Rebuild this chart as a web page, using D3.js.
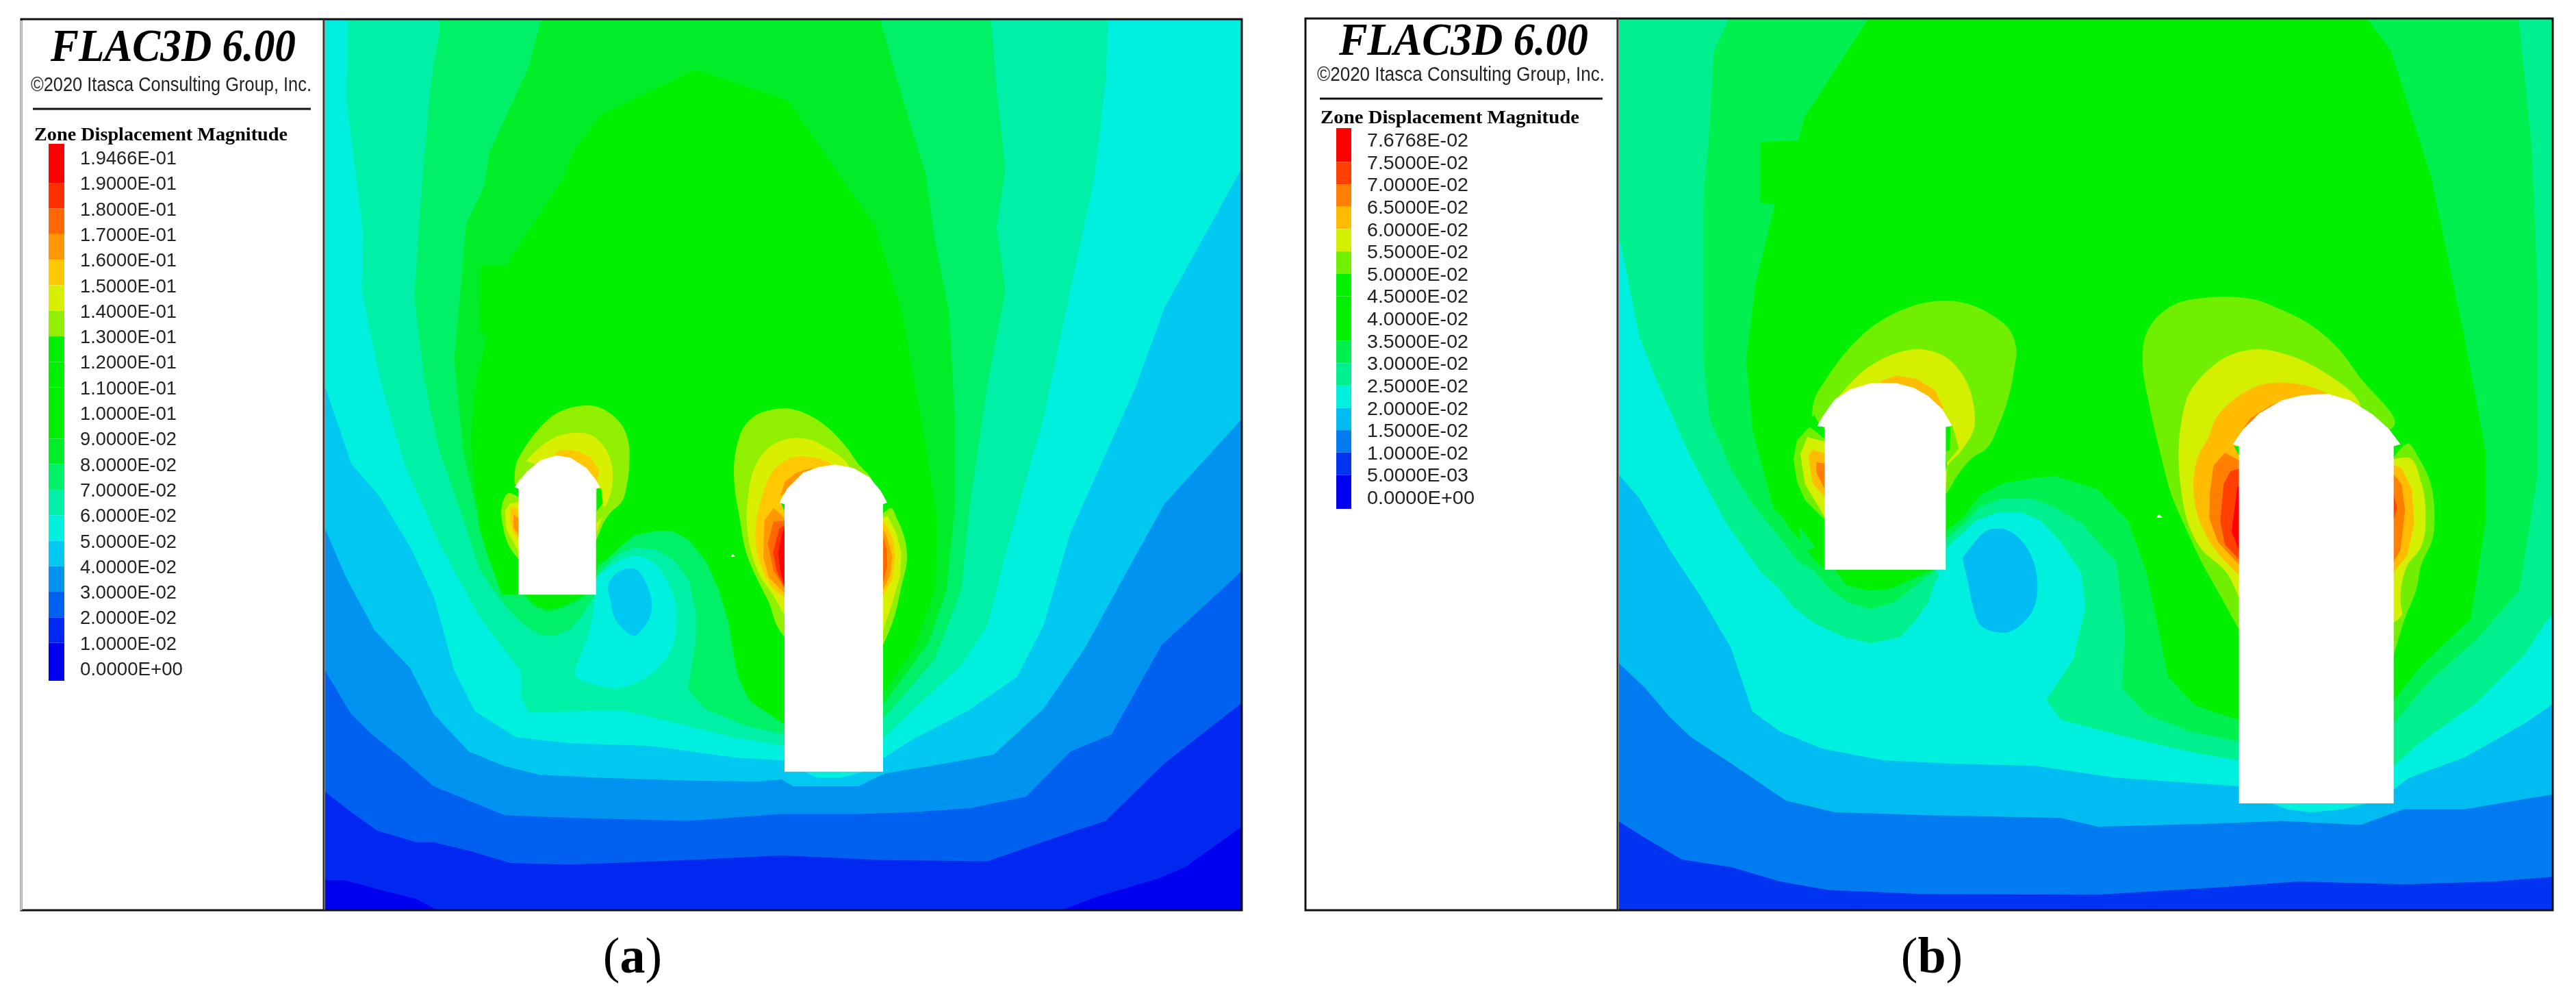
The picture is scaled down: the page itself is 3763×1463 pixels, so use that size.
<!DOCTYPE html>
<html>
<head>
<meta charset="utf-8">
<script src="https://cdn.jsdelivr.net/npm/d3@7"></script>
<style>
  html, body { margin: 0; padding: 0; background: #fff; }
  svg { display: block; }
</style>
</head>
<body>
<div id="chart"></div>
<script>
// Legend labels, top to bottom
const labelsA = ['1.9466E-01','1.9000E-01','1.8000E-01','1.7000E-01','1.6000E-01','1.5000E-01','1.4000E-01','1.3000E-01','1.2000E-01','1.1000E-01','1.0000E-01','9.0000E-02','8.0000E-02','7.0000E-02','6.0000E-02','5.0000E-02','4.0000E-02','3.0000E-02','2.0000E-02','1.0000E-02','0.0000E+00'];
const labelsB = ['7.6768E-02','7.5000E-02','7.0000E-02','6.5000E-02','6.0000E-02','5.5000E-02','5.0000E-02','4.5000E-02','4.0000E-02','3.5000E-02','3.0000E-02','2.5000E-02','2.0000E-02','1.5000E-02','1.0000E-02','5.0000E-03','0.0000E+00'];

// Contour colours, lowest band first
const bandsA = ['#0000f0','#0028f0','#0060f0','#0094f0','#00c8f0','#00f0e0','#00f0a8','#00f068','#00ee28','#00f000','#00f000','#00f000','#00f000','#90f000','#d8f000','#ffc800','#ff9800','#ff6800','#ff3000','#ff0000'];
const bandsB = ['#0000f0','#0034f0','#007cf0','#00bcf0','#00f0e0','#00f090','#00f050','#00f000','#00f000','#00f000','#70f000','#d4f000','#ffbc00','#ff8000','#ff4000','#ff0000'];

const titleText = 'FLAC3D 6.00';
const copyrightText = '\u00a92020 Itasca Consulting Group, Inc.';
const legendTitle = 'Zone Displacement Magnitude';

// Contours: [level, frame, points], drawn in this order
const contoursA = [
  [0.01,'A',[[0,1503],[40,1503],[100,1520],[160,1535],[220,1568],[1220,1568],[1320,1530],[1420,1500],[1465,1480],[1568,1405],[1568,0],[0,0]]],
  [0.02,'A',[[0,1345],[50,1385],[95,1417],[160,1437],[190,1437],[250,1452],[320,1473],[420,1476],[620,1468],[780,1460],[950,1468],[1130,1470],[1270,1420],[1330,1400],[1430,1300],[1568,1190],[1568,0],[0,0]]],
  [0.03,'A',[[0,1130],[50,1215],[85,1250],[140,1295],[190,1340],[250,1365],[310,1390],[430,1395],[620,1400],[780,1388],[910,1388],[1000,1385],[1100,1378],[1195,1358],[1270,1280],[1340,1250],[1425,1095],[1568,960],[1568,0],[0,0]]],
  [0.04,'A',[[0,880],[40,975],[90,1070],[150,1135],[190,1215],[250,1280],[310,1305],[370,1320],[470,1325],[620,1330],[740,1332],[780,1328],[800,1340],[910,1340],[955,1318],[1060,1300],[1140,1285],[1225,1205],[1295,1100],[1370,960],[1430,850],[1568,695],[1568,0],[0,0]]],
  [0.05,'A',[[0,630],[30,720],[50,780],[100,840],[150,925],[190,1010],[225,1140],[260,1210],[330,1255],[420,1265],[560,1270],[700,1290],[785,1295],[955,1290],[1000,1260],[1095,1210],[1180,1150],[1225,1060],[1270,900],[1380,650],[1430,510],[1568,255],[1568,0],[0,0]]],
  [0.06,'A',[[45,0],[42,150],[70,380],[68,480],[100,640],[140,780],[200,920],[267,1045],[337,1140],[340,1168],[337,1184],[352,1212],[420,1210],[510,1208],[600,1230],[700,1255],[785,1270],[955,1255],[1000,1210],[1085,1130],[1130,1060],[1170,900],[1225,700],[1270,480],[1310,290],[1330,120],[1335,0]]],
  [0.07,'A',[[200,0],[200,30],[185,120],[170,300],[157,490],[175,640],[200,760],[235,860],[267,962],[290,998],[317,1034],[344,1061],[371,1077],[395,1079],[422,1067],[441,1045],[462,1010],[472,970],[499,940],[531,926],[565,929],[596,946],[623,982],[635,1038],[635,1085],[627,1137],[621,1172],[650,1205],[720,1235],[785,1250],[955,1220],[1040,1120],[1085,1000],[1100,850],[1130,640],[1160,480],[1145,370],[1160,270],[1145,130],[1135,0]]],
  [0.08,'A',[[375,0],[350,95],[285,240],[275,300],[245,365],[225,600],[240,760],[267,880],[279,927],[298,982],[306,1004],[344,1008],[360,1027],[383,1037],[406,1031],[430,1020],[449,1008],[464,990],[466,958],[472,958],[499,918],[522,899],[561,889],[592,889],[619,903],[650,942],[673,998],[689,1053],[698,1109],[705,1148],[723,1188],[785,1225],[955,1195],[1030,1090],[1060,1000],[1075,850],[1075,720],[1065,520],[1040,390],[1025,280],[975,110],[945,0]]],
  [0.09,'A',[[635,97],[475,175],[430,235],[410,285],[315,435],[270,437],[268,550],[280,560],[262,640],[252,740],[267,890],[279,932],[298,986],[306,1008],[344,1008],[360,1024],[383,1033],[406,1027],[430,1016],[449,1008],[464,986],[470,950],[480,950],[506,925],[530,905],[565,897],[595,897],[622,912],[652,950],[676,1005],[692,1060],[700,1115],[710,1155],[730,1195],[785,1232],[955,1175],[1005,1100],[1040,1000],[1045,880],[1020,720],[985,520],[940,370],[790,150]]],
  // cyan lobe and blue core beside the small opening
  [0.05,'a1',[[510,925],[510,860],[575,800],[640,765],[700,755],[770,790],[820,860],[860,960],[865,1060],[840,1170],[780,1250],[690,1310],[600,1335],[510,1320],[420,1275],[440,1200],[480,1100],[500,1000]]],
  [0.04,'a1',[[640,810],[690,815],[725,860],[745,910],[757,965],[745,1030],[720,1070],[680,1105],[630,1075],[595,1030],[575,950],[565,885],[600,830]]],
  [0.05,'A',[[820,1315],[920,1315],[880,1325],[840,1325]]],
  // small opening, crown
  [0.13,'a1',[[155,400],[160,360],[200,280],[260,200],[340,130],[430,100],[510,100],[580,135],[630,190],[655,260],[658,350],[650,430],[620,525],[580,560],[545,610],[520,670],[515,680],[340,500],[155,440]]],
  [0.14,'a1',[[205,340],[290,260],[360,225],[430,215],[490,225],[550,280],[580,350],[585,420],[570,500],[550,540],[515,470],[400,400]]],
  [0.09,'a1',[[515,460],[535,460],[542,525],[515,560]]],
  [0.14,'a1',[[515,610],[540,585],[525,625],[515,650]]],
  [0.15,'a1',[[330,310],[360,290],[430,295],[490,325],[525,380],[520,430],[340,350]]],
  // small opening, left wall
  [0.13,'a1',[[130,478],[160,490],[175,500],[175,770],[130,710],[105,630],[100,530],[115,490]]],
  [0.14,'a1',[[175,520],[135,525],[112,560],[120,640],[175,740]]],
  [0.15,'a1',[[175,550],[135,540],[135,600],[150,650],[175,690]]],
  [0.16,'a1',[[175,590],[150,575],[150,630],[175,670]]],
  // large opening, crown and left wall
  [0.13,'a2',[[318,1050],[290,1010],[250,900],[200,800],[150,680],[120,520],[100,400],[100,260],[110,210],[140,130],[190,80],[260,55],[340,50],[430,80],[510,135],[590,220],[640,290],[700,360],[500,500]]],
  [0.14,'a2',[[320,960],[270,870],[210,780],[160,620],[160,420],[190,300],[250,220],[340,180],[430,185],[510,225],[600,300],[500,500]]],
  [0.15,'a2',[[320,880],[270,840],[220,750],[190,600],[200,510],[225,420],[270,320],[350,265],[420,260],[520,290],[450,500]]],
  [0.16,'a2',[[320,860],[250,790],[225,700],[230,540],[270,485],[320,530]]],
  [0.16,'a2',[[300,430],[320,370],[370,330],[440,310],[400,400]]],
  [0.17,'a2',[[320,840],[270,760],[245,640],[270,545],[320,540]]],
  [0.18,'a2',[[320,835],[285,765],[268,680],[295,575],[320,560]]],
  [0.19,'a2',[[320,830],[300,760],[290,680],[310,590],[320,570]]],
  [0.09,'a2',[[303,465],[320,465],[320,505]]],
  // large opening, right wall
  [0.13,'a2',[[748,1090],[790,990],[830,830],[855,700],[845,620],[810,530],[785,485],[748,510]]],
  [0.14,'a2',[[748,1030],[790,900],[825,780],[830,680],[810,600],[770,520],[748,530]]],
  [0.15,'a2',[[748,870],[790,800],[805,700],[795,620],[748,535]]],
  [0.16,'a2',[[748,850],[780,780],[790,700],[770,620],[748,570]]],
  [0.17,'a2',[[748,820],[768,740],[765,660],[748,610]]]
];

const contoursB = [
  [0.005,'B',[[0,0],[1568,0],[1568,1568],[0,1568]]],
  [0.01,'B',[[0,1390],[60,1430],[120,1467],[200,1480],[280,1505],[360,1520],[520,1527],[800,1528],[1000,1515],[1130,1505],[1300,1510],[1450,1505],[1568,1495],[1568,0],[0,0]]],
  [0.015,'B',[[0,1110],[60,1170],[100,1220],[135,1255],[200,1300],[290,1365],[370,1385],[520,1390],[740,1395],[800,1410],[980,1405],[1100,1400],[1230,1407],[1300,1380],[1400,1380],[1500,1362],[1568,1350],[1568,0],[0,0]]],
  [0.02,'B',[[0,780],[50,840],[100,930],[150,1010],[200,1100],[235,1210],[280,1245],[350,1275],[450,1295],[550,1300],[700,1305],[830,1325],[1032,1340],[1285,1345],[1310,1325],[1400,1290],[1500,1230],[1568,1180],[1568,0],[0,0]]],
  [0.025,'B',[[0,360],[20,400],[50,560],[80,640],[130,760],[190,880],[250,970],[280,998],[302,1029],[336,1057],[385,1081],[429,1092],[478,1081],[504,1049],[523,1021],[534,986],[541,974],[534,964],[553,964],[553,926],[575,905],[601,879],[638,865],[676,865],[706,879],[739,915],[773,970],[780,1030],[760,1120],[716,1190],[740,1225],[850,1255],[950,1280],[1030,1295],[1285,1305],[1320,1270],[1420,1195],[1500,1110],[1530,1060],[1568,1010],[1568,0],[0,0]]],
  [0.03,'B',[[200,0],[172,65],[165,200],[155,320],[155,600],[165,700],[200,790],[235,850],[280,909],[310,950],[336,966],[362,998],[392,1021],[429,1033],[467,1021],[504,990],[534,966],[554,909],[579,887],[608,855],[642,841],[691,841],[728,855],[773,883],[830,950],[845,1070],[840,1170],[880,1215],[950,1245],[1030,1262],[1285,1230],[1340,1160],[1420,1085],[1490,1000],[1520,800],[1520,480],[1510,230],[1488,0]]],
  [0.035,'B',[[430,0],[320,180],[310,220],[248,222],[248,328],[272,330],[240,470],[225,600],[235,720],[270,860],[280,867],[295,891],[314,915],[312,889],[338,926],[325,930],[336,946],[353,964],[370,964],[388,990],[422,1000],[459,998],[493,982],[530,964],[554,895],[579,875],[608,835],[646,814],[691,806],[732,802],[773,816],[800,825],[850,880],[880,970],[900,1070],[915,1150],[960,1200],[1030,1225],[1285,1190],[1330,1130],[1410,1050],[1435,880],[1435,760],[1400,560],[1345,280],[1280,65],[1235,0]]],
  // blue core beside the small opening
  [0.015,'b1',[[800,1185],[850,1120],[905,1065],[990,1060],[1080,1135],[1115,1210],[1128,1280],[1110,1410],[995,1510],[880,1480],[845,1390],[825,1290]]],
  [0.02,'B',[[1085,1370],[1240,1370],[1200,1380],[1150,1385],[1110,1380]]],
  // small opening, crown
  [0.05,'b1',[[140,560],[150,495],[210,390],[300,270],[420,160],[540,95],[640,65],[800,65],[930,120],[1010,190],[1035,260],[1025,370],[960,600],[900,710],[850,740],[780,820],[730,900],[727,700],[400,500],[197,620]]],
  [0.055,'b1',[[210,540],[280,450],[400,340],[500,290],[620,270],[720,300],[800,380],[850,520],[850,620],[790,720],[730,790],[727,880],[727,720],[400,500]]],
  [0.05,'b1',[[755,600],[785,705],[730,770],[727,600]]],
  [0.035,'b1',[[727,610],[748,610],[745,710],[727,720]]],
  [0.06,'b1',[[440,410],[510,385],[600,400],[680,450],[720,530],[500,500]]],
  // small opening, left wall
  [0.05,'b1',[[200,650],[130,610],[75,670],[60,750],[75,850],[110,930],[200,1020]]],
  [0.035,'b1',[[125,605],[150,555],[175,605],[200,620],[200,665]]],
  [0.055,'b1',[[200,675],[120,655],[90,730],[110,860],[200,1010]]],
  [0.06,'b1',[[200,725],[140,710],[125,740],[145,860],[200,920]]],
  [0.065,'b1',[[200,770],[160,765],[160,810],[200,890]]],
  // large opening, crown and left wall
  [0.05,'b2',[[515,1310],[440,1190],[350,1050],[280,920],[220,800],[170,640],[120,450],[90,290],[100,190],[150,115],[240,60],[330,42],[450,35],[580,45],[700,85],[840,150],[950,235],[1040,340],[1195,520],[900,600]]],
  [0.055,'b2',[[515,1190],[460,1090],[340,990],[290,900],[260,780],[260,510],[290,410],[370,320],[480,255],[600,235],[720,255],[880,320],[1040,440],[800,700]]],
  [0.06,'b2',[[515,1100],[400,990],[335,880],[335,640],[380,570],[410,500],[500,420],[610,370],[750,365],[850,385],[910,410],[700,700]]],
  [0.065,'b2',[[515,1060],[420,970],[382,880],[385,780],[400,680],[450,630],[515,660]]],
  [0.065,'b2',[[510,565],[560,500],[650,450],[700,432],[650,520]]],
  [0.07,'b2',[[515,1040],[450,980],[430,890],[445,750],[475,700],[515,690]]],
  [0.075,'b2',[[515,1010],[480,930],[505,760],[515,760]]],
  [0.035,'b2',[[490,605],[515,605],[515,645]]],
  // large opening, right wall
  [0.05,'b2',[[1188,1410],[1240,1260],[1290,1150],[1310,1060],[1360,960],[1368,840],[1350,740],[1300,650],[1255,595],[1188,650]]],
  [0.055,'b2',[[1188,1280],[1225,1250],[1220,1200],[1250,1060],[1310,990],[1330,860],[1310,740],[1260,650],[1188,655]]],
  [0.06,'b2',[[1188,1090],[1250,1020],[1280,900],[1270,770],[1225,690],[1188,675]]],
  [0.065,'b2',[[1188,1050],[1220,1000],[1240,850],[1225,750],[1188,710]]],
  [0.07,'b2',[[1188,890],[1205,840],[1188,780]]]
];

// Excavated openings and stray gaps in the mesh, always white
const openingsA = [
  ['a1',[[172,925],[172,460],[155,455],[175,425],[210,385],[270,335],[340,315],[400,325],[470,370],[510,420],[530,455],[512,460],[512,925]]],
  ['a2',[[318,1640],[318,468],[295,462],[330,400],[400,330],[470,305],[540,295],[620,310],[690,350],[740,410],[768,462],[750,468],[750,1640]]],
  ['a2',[[82,698],[92,688],[103,698]]]
];
const openingsB = [
  ['b1',[[197,1235],[197,610],[163,607],[190,560],[240,490],[310,445],[400,418],[510,418],[590,440],[650,475],[710,530],[755,605],[727,610],[727,1235]]],
  ['b2',[[512,1968],[512,605],[485,598],[530,540],[600,480],[700,430],[790,410],[900,405],[1000,430],[1100,485],[1170,540],[1220,598],[1190,605],[1190,1968]]],
  ['b2',[[148,878],[162,865],[178,878]]]
];

const W = 3763, H = 1463;

// Each reading frame maps the coordinates the contours were read in onto the page
function frame(x0, y0, w, h, dw, dh) {
  return {
    x: d3.scaleLinear().domain([0, dw]).range([x0, x0 + w]),
    y: d3.scaleLinear().domain([0, dh]).range([y0, y0 + h])
  };
}
const frames = {
  A: frame(470, 20, 1350, 1320, 1568, 1568),
  a1: frame(700, 560, 400, 480, 1200, 1440),
  a2: frame(1040, 580, 320, 400, 960, 1200),
  B: frame(2350, 20, 1400, 1320, 1568, 1568),
  b1: frame(2600, 420, 440, 520, 1320, 1560),
  b2: frame(3100, 420, 480, 600, 1440, 1568)
};

const pathFor = (name, pts, curved) => {
  const f = frames[name];
  const line = d3.line().x(d => f.x(d[0])).y(d => f.y(d[1]));
  // lobes round the openings are smooth, the far field contours are not
  if (curved && name.length === 2 && pts.length >= 8) line.curve(d3.curveCatmullRom.alpha(1));
  return line(pts) + 'Z';
};

const svg = d3.select('#chart').append('svg')
  .attr('width', W)
  .attr('height', H)
  .attr('viewBox', `0 0 ${W} ${H}`);

const defs = svg.append('defs');
defs.append('filter').attr('id', 'soft')
  .append('feGaussianBlur').attr('stdDeviation', 0.7);

function drawPanel(p) {
  const g = svg.append('g');
  const color = d3.scaleThreshold()
    .domain(p.labels.map(Number).reverse().slice(1, -1))
    .range(p.bands);

  // Plot background and contours
  const clipId = 'clip-' + p.id;
  defs.append('clipPath').attr('id', clipId).append('rect')
    .attr('x', p.plot.x0).attr('y', p.plot.y0)
    .attr('width', p.plot.x1 - p.plot.x0)
    .attr('height', p.plot.y1 - p.plot.y0);

  const plot = g.append('g').attr('clip-path', `url(#${clipId})`);
  plot.append('rect')
    .attr('x', p.plot.x0).attr('y', p.plot.y0)
    .attr('width', p.plot.x1 - p.plot.x0)
    .attr('height', p.plot.y1 - p.plot.y0)
    .attr('fill', p.bands[0]);

  plot.selectAll('.contour')
    .data(p.contours)
    .join('path')
    .attr('class', 'contour')
    .attr('d', d => pathFor(d[1], d[2], true))
    .attr('fill', d => color(d[0]));

  plot.selectAll('.opening')
    .data(p.openings)
    .join('path')
    .attr('class', 'opening')
    .attr('d', d => pathFor(d[0], d[1], false))
    .attr('fill', '#fff');

  // Frame
  g.append('rect')
    .attr('x', p.box.x0).attr('y', p.box.y0)
    .attr('width', p.box.x1 - p.box.x0)
    .attr('height', p.box.y1 - p.box.y0)
    .attr('fill', 'none')
    .attr('stroke', '#111')
    .attr('stroke-width', p.box.sw);
  g.append('line')
    .attr('x1', p.plot.x0 - 2).attr('x2', p.plot.x0 - 2)
    .attr('y1', p.box.y0).attr('y2', p.box.y1)
    .attr('stroke', '#333')
    .attr('stroke-width', p.box.sw);
  if (p.box.leftColor) {
    g.append('line')
      .attr('x1', p.box.x0).attr('x2', p.box.x0)
      .attr('y1', p.box.y0 + 2).attr('y2', p.box.y1)
      .attr('stroke', p.box.leftColor)
      .attr('stroke-width', p.box.sw);
  }

  // Legend block
  const lg = p.legend;
  const text = g.append('g').attr('filter', 'url(#soft)');
  text.append('text')
    .attr('x', lg.titleX).attr('y', lg.titleY)
    .attr('textLength', lg.titleW)
    .attr('lengthAdjust', 'spacingAndGlyphs')
    .style('font', 'italic bold 68px "Liberation Serif", serif')
    .text(titleText);
  text.append('text')
    .attr('x', lg.copyX).attr('y', lg.copyY)
    .attr('textLength', lg.copyW)
    .attr('lengthAdjust', 'spacingAndGlyphs')
    .style('font', '29px "Liberation Sans", sans-serif')
    .attr('fill', '#222')
    .text(copyrightText);
  g.append('line')
    .attr('x1', lg.ruleX0).attr('x2', lg.ruleX1)
    .attr('y1', lg.ruleY).attr('y2', lg.ruleY)
    .attr('stroke', '#111')
    .attr('stroke-width', 3);
  text.append('text')
    .attr('x', lg.headX).attr('y', lg.headY)
    .attr('textLength', lg.headW)
    .attr('lengthAdjust', 'spacingAndGlyphs')
    .style('font', 'bold 27px "Liberation Serif", serif')
    .text(legendTitle);

  // Colour key: band edges sit on the label centres, both ends run past them
  const keyY = d3.scalePoint()
    .domain(p.labels)
    .range([lg.firstY, lg.lastY]);
  const swatches = d3.pairs(p.labels);
  const swatchTop = (d, i) => i === 0 ? lg.barTop : keyY(d[0]);
  const swatchBottom = (d, i) => i === swatches.length - 1 ? lg.barBottom : keyY(d[1]);
  g.selectAll('.swatch')
    .data(swatches)
    .join('rect')
    .attr('class', 'swatch')
    .attr('x', lg.barX)
    .attr('width', lg.barW)
    .attr('y', swatchTop)
    .attr('height', (d, i) => swatchBottom(d, i) - swatchTop(d, i))
    .attr('fill', d => color(Number(d[1])));

  text.selectAll('.key-label')
    .data(p.labels)
    .join('text')
    .attr('class', 'key-label')
    .attr('x', lg.labelX)
    .attr('y', d => keyY(d))
    .attr('dy', '0.36em')
    .attr('textLength', d => d.endsWith('+00') ? lg.labelW + 9 : lg.labelW)
    .attr('lengthAdjust', 'spacingAndGlyphs')
    .style('font', '28px "Liberation Sans", sans-serif')
    .attr('fill', '#222')
    .text(d => d);

  // Panel tag
  const tag = g.append('text')
    .attr('x', p.tagX).attr('y', 1420)
    .attr('text-anchor', 'middle')
    .style('font', '74px "Liberation Serif", serif');
  tag.append('tspan').text('(');
  tag.append('tspan').style('font-weight', 'bold').text(p.id);
  tag.append('tspan').text(')');
}

drawPanel({
  id: 'a',
  labels: labelsA, bands: bandsA, contours: contoursA, openings: openingsA,
  plot: { x0: 475, x1: 1813, y0: 28, y1: 1328 },
  box: { x0: 31, x1: 1814, y0: 28, y1: 1329, sw: 3, leftColor: '#c8c8c8' },
  tagX: 924,
  legend: {
    titleX: 74, titleY: 89, titleW: 358,
    copyX: 45, copyY: 133, copyW: 410,
    ruleX0: 48, ruleX1: 454, ruleY: 159,
    headX: 50, headY: 205, headW: 370,
    barX: 71, barW: 23, barTop: 210, barBottom: 994,
    firstY: 230, lastY: 976,
    labelX: 117, labelW: 141
  }
});

drawPanel({
  id: 'b',
  labels: labelsB, bands: bandsB, contours: contoursB, openings: openingsB,
  plot: { x0: 2365, x1: 3728, y0: 27, y1: 1328 },
  box: { x0: 1907, x1: 3729, y0: 27, y1: 1329, sw: 3 },
  tagX: 2822,
  legend: {
    titleX: 1956, titleY: 80, titleW: 364,
    copyX: 1924, copyY: 118, copyW: 420,
    ruleX0: 1928, ruleX1: 2341, ruleY: 144,
    headX: 1929, headY: 180, headW: 378,
    barX: 1952, barW: 22, barTop: 187, barBottom: 743,
    firstY: 204, lastY: 726,
    labelX: 1997, labelW: 148
  }
});
</script>
</body>
</html>
